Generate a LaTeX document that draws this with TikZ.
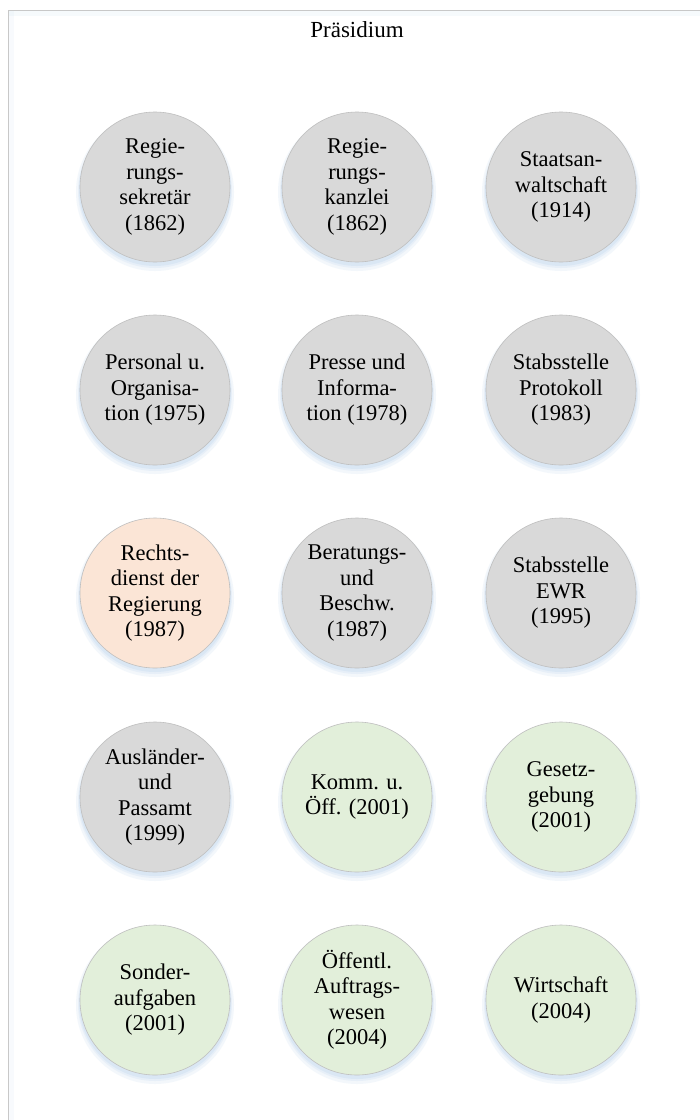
\documentclass[tikz,border=0pt]{standalone}
\usepackage{fontspec}
\setmainfont{Liberation Serif}
\definecolor{cgray}{HTML}{D9D9D9}
\definecolor{cpeach}{HTML}{FBE5D6}
\definecolor{cgreen}{HTML}{E2EFDA}
\definecolor{cline}{HTML}{BFBFBF}
\definecolor{cframe}{HTML}{C8C8C8}
\definecolor{cglow}{HTML}{BDD7EE}
\tikzset{
  unit/.style={circle, minimum size=150pt, inner sep=0pt, draw=cline, line width=0.6pt,
    align=center, font=\fontsize{22.5}{25.5}\selectfont, text=black},
  grayunit/.style={unit, fill=cgray},
  peachunit/.style={unit, fill=cpeach},
  greenunit/.style={unit, fill=cgreen},
  titlebox/.style={font=\fontsize{23}{26}\selectfont, inner sep=0pt}
}
\newcommand{\glowat}[2]{%
  \fill[cglow, opacity=0.18] (#1,#2+5) circle (79pt);
  \fill[cglow, opacity=0.22] (#1,#2+4) circle (77pt);
  \fill[cglow, opacity=0.3] (#1,#2+3) circle (76pt);
}
\begin{document}
\begin{tikzpicture}[x=1pt, y=-1pt]
\useasboundingbox (0,0) rectangle (700,1120);
\fill[white] (0,0) rectangle (700,1120);
\fill[cglow, opacity=0.12] (8,10) rectangle (710,16);
\fill[cglow, opacity=0.10] (8,10) rectangle (14,1130);
\draw[cframe, line width=0.8pt] (8,10) -- (710,10);
\draw[cframe, line width=0.8pt] (8,10) -- (8,1130);
\node[titlebox] (title) at (357,30) {Präsidium};
\foreach \x in {155,357,561} {
  \foreach \y in {187,390,593,797,1000} {
    \glowat{\x}{\y}
  }
}
\node[grayunit] (a1) at (155,187) {Regie-\\rungs-\\sekretär\\(1862)};
\node[grayunit] (a2) at (357,187) {Regie-\\rungs-\\kanzlei\\(1862)};
\node[grayunit] (a3) at (561,187) {Staatsan-\\waltschaft\\(1914)};
\node[grayunit] (b1) at (155,390) {Personal u.\\Organisa-\\tion (1975)};
\node[grayunit] (b2) at (357,390) {Presse und\\Informa-\\tion (1978)};
\node[grayunit] (b3) at (561,390) {Stabsstelle\\Protokoll\\(1983)};
\node[peachunit] (c1) at (155,593) {Rechts-\\dienst der\\Regierung\\(1987)};
\node[grayunit] (c2) at (357,593) {Beratungs-\\und\\Beschw.\\(1987)};
\node[grayunit] (c3) at (561,593) {Stabsstelle\\EWR\\(1995)};
\node[grayunit] (d1) at (155,797) {Ausländer-\\und\\Passamt\\(1999)};
\node[greenunit] (d2) at (357,797) {Komm. u.\\Öff. (2001)};
\node[greenunit] (d3) at (561,797) {Gesetz-\\gebung\\(2001)};
\node[greenunit] (e1) at (155,1000) {Sonder-\\aufgaben\\(2001)};
\node[greenunit] (e2) at (357,1000) {Öffentl.\\Auftrags-\\wesen\\(2004)};
\node[greenunit] (e3) at (561,1000) {Wirtschaft\\(2004)};
\end{tikzpicture}
\end{document}
